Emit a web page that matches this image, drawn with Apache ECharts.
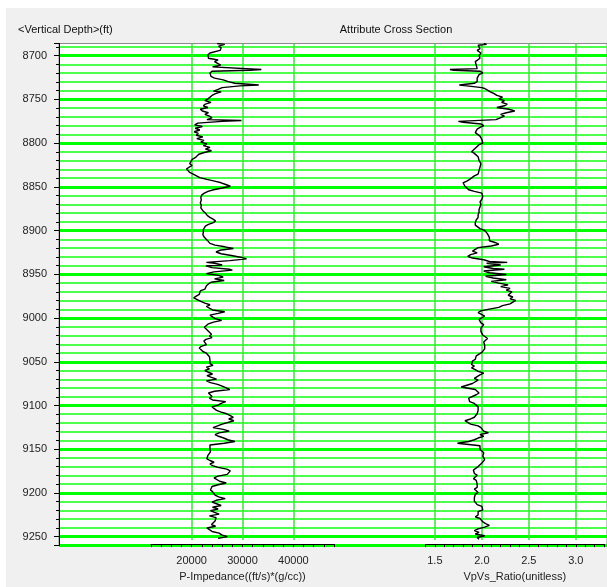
<!DOCTYPE html>
<html>
<head>
<meta charset="utf-8">
<title>Attribute Cross Section</title>
<script src="https://cdn.jsdelivr.net/npm/echarts@6/dist/echarts.min.js"></script>
<style>
  html, body { margin: 0; padding: 0; background: #fff; }
  #chart { width: 607px; height: 587px; }
</style>
</head>
<body>
<div id="chart"></div>
<script>
// Depth range of the section (ft)
const depthMin = 8686;
const depthMax = 9260;

// P-Impedance track
const impDepth = [
  8686, 8687, 8689, 8691, 8694, 8697, 8699, 8701, 8703, 8705, 8707, 8709, 8711, 8713, 8715, 8716, 8717, 8718,
  8720, 8722, 8724, 8726, 8728, 8730, 8732, 8734, 8735, 8737, 8739, 8741, 8742, 8744, 8746, 8748, 8750, 8752,
  8754, 8756, 8758, 8760, 8762, 8764, 8766, 8768, 8770, 8772, 8774, 8775, 8776, 8778, 8780, 8782, 8784, 8786,
  8788, 8790, 8792, 8794, 8796, 8798, 8800, 8802, 8804, 8806, 8808, 8810, 8812, 8814, 8816, 8818, 8820, 8822,
  8825, 8827, 8829, 8831, 8833, 8835, 8837, 8839, 8841, 8843, 8845, 8847, 8849, 8851, 8853, 8855, 8857, 8859,
  8861, 8864, 8867, 8870, 8873, 8876, 8878, 8880, 8882, 8885, 8887, 8889, 8891, 8893, 8895, 8897, 8899, 8901,
  8904, 8907, 8910, 8913, 8915, 8917, 8919, 8921, 8923, 8925, 8927, 8929, 8931, 8933, 8935, 8937, 8939, 8940,
  8942, 8943, 8945, 8947, 8948, 8950, 8952, 8954, 8956, 8958, 8960, 8962, 8964, 8966, 8968, 8970, 8972, 8974,
  8976, 8978, 8980, 8982, 8984, 8986, 8988, 8990, 8992, 8994, 8996, 8998, 9000, 9002, 9004, 9006, 9008, 9010,
  9012, 9014, 9016, 9018, 9020, 9022, 9024, 9026, 9028, 9030, 9032, 9034, 9036, 9038, 9040, 9042, 9044, 9046,
  9048, 9050, 9052, 9054, 9056, 9058, 9060, 9062, 9064, 9066, 9068, 9070, 9072, 9074, 9076, 9078, 9080, 9082,
  9084, 9086, 9088, 9090, 9092, 9094, 9096, 9098, 9100, 9102, 9104, 9106, 9108, 9110, 9112, 9114, 9116, 9118,
  9120, 9122, 9124, 9126, 9128, 9130, 9132, 9134, 9136, 9138, 9140, 9142, 9144, 9146, 9148, 9150, 9152, 9155,
  9158, 9160, 9162, 9164, 9166, 9168, 9170, 9172, 9174, 9176, 9178, 9180, 9182, 9184, 9186, 9188, 9190, 9192,
  9194, 9196, 9198, 9200, 9202, 9204, 9206, 9208, 9210, 9212, 9214, 9216, 9218, 9220, 9222, 9224, 9226, 9228,
  9230, 9232, 9234, 9236, 9238, 9240, 9242, 9244, 9246, 9248, 9250, 9252, 9254, 9256, 9258
];
const impValue = [
  25000, 26500, 25300, 25800, 25600, 23600, 23200, 22900, 23300, 25200, 24500, 24200, 25700, 24100, 24400, 33700, 31500, 24000,
  23600, 23400, 23800, 24500, 26200, 27200, 28500, 33200, 29500, 26000, 25200, 24300, 25800, 24700, 24000, 23800, 23200, 22600,
  23800, 22700, 22300, 23200, 21700, 22100, 23300, 22600, 23500, 24000, 23000, 29800, 26000, 21200, 20600, 22100, 20700, 21600,
  20500, 21300, 20900, 22200, 21000, 22400, 21800, 23000, 22300, 23600, 22700, 23900, 22500, 21400, 21200, 20700, 20100, 19800,
  19600, 20100, 19500, 19000, 18900, 19600, 20300, 20500, 21600, 23000, 24500, 25800, 26700, 27600, 26000, 24300, 23200, 22500,
  22000, 21800, 21900, 21700, 21900, 21800, 22100, 22300, 22700, 23100, 23600, 24200, 24700, 24300, 23300, 22700, 22400, 22300,
  22300, 22200, 22500, 23000, 23300, 23600, 24600, 26500, 28200, 25500, 24800, 25800, 27800, 29600, 30800, 27500, 22900, 24500,
  26000, 22800, 24000, 27500, 28000, 24400, 22900, 25300, 26200, 24500, 26400, 23800, 23300, 22900, 23000, 22600, 21700, 22000,
  21500, 20900, 20400, 20300, 21800, 22600, 23600, 22900, 23100, 24100, 26500, 25200, 23600, 23500, 24600, 25900, 24300, 23300,
  23000, 22500, 22300, 23200, 23400, 23900, 23500, 24000, 22800, 22400, 22200, 22900, 21900, 21500, 21700, 22200, 22900, 23200,
  23500, 23300, 23600, 23800, 23600, 24200, 22900, 23500, 22600, 23300, 24100, 23000, 23900, 24900, 22900, 23700, 25100, 26000,
  26800, 27500, 24500, 23300, 23600, 24000, 23500, 24100, 26700, 25800, 25200, 24000, 24300, 24900, 25800, 26900, 27600, 28200,
  27300, 28300, 28500, 26000, 25100, 24200, 26200, 27400, 25400, 24600, 25300, 26300, 27100, 28500, 26400, 23600, 23500, 23600,
  23700, 23800, 23200, 22900, 23000, 23600, 24400, 23600, 24100, 25200, 26900, 27600, 27400, 27000, 25200, 24400, 24600, 25500,
  26800, 25200, 24000, 24300, 23700, 24100, 23800, 24600, 25300, 26600, 24800, 24000, 24900, 25800, 24100, 25200, 23700, 24500,
  25400, 23500, 24800, 25100, 24600, 24300, 23900, 24700, 23000, 22700, 24000, 25400, 25900, 27000, 25200
];

// VpVs ratio track
const vpvsDepth = [
  8686, 8687, 8688, 8690, 8692, 8694, 8697, 8700, 8703, 8705, 8707, 8709, 8711, 8713, 8715, 8716, 8717, 8718,
  8720, 8722, 8724, 8726, 8728, 8730, 8732, 8734, 8735, 8737, 8738, 8740, 8742, 8744, 8746, 8748, 8750, 8752,
  8754, 8756, 8758, 8760, 8762, 8764, 8766, 8768, 8770, 8772, 8774, 8776, 8777, 8779, 8781, 8783, 8785, 8787,
  8789, 8791, 8793, 8795, 8797, 8799, 8801, 8803, 8805, 8807, 8809, 8811, 8813, 8815, 8817, 8819, 8821, 8823,
  8825, 8827, 8829, 8831, 8833, 8835, 8837, 8839, 8841, 8843, 8845, 8847, 8849, 8851, 8853, 8855, 8857, 8859,
  8861, 8863, 8866, 8869, 8872, 8875, 8878, 8881, 8884, 8887, 8890, 8893, 8896, 8898, 8900, 8902, 8904, 8906,
  8908, 8910, 8912, 8914, 8916, 8918, 8920, 8922, 8924, 8926, 8928, 8930, 8932, 8934, 8936, 8938, 8939, 8940,
  8942, 8944, 8946, 8947, 8949, 8951, 8953, 8955, 8957, 8959, 8961, 8963, 8965, 8967, 8969, 8971, 8973, 8975,
  8977, 8979, 8981, 8983, 8985, 8987, 8989, 8991, 8993, 8995, 8997, 8999, 9001, 9003, 9005, 9007, 9009, 9011,
  9013, 9015, 9017, 9019, 9021, 9023, 9025, 9027, 9029, 9031, 9033, 9035, 9037, 9039, 9041, 9043, 9045, 9047,
  9049, 9051, 9053, 9055, 9057, 9059, 9061, 9063, 9065, 9067, 9069, 9071, 9073, 9075, 9077, 9079, 9081, 9083,
  9085, 9086, 9088, 9090, 9092, 9094, 9096, 9098, 9100, 9102, 9104, 9106, 9108, 9110, 9112, 9114, 9116, 9118,
  9120, 9122, 9124, 9126, 9128, 9130, 9132, 9134, 9136, 9138, 9140, 9142, 9144, 9146, 9148, 9149, 9151, 9153,
  9155, 9157, 9159, 9161, 9163, 9165, 9167, 9169, 9171, 9173, 9175, 9177, 9179, 9181, 9183, 9185, 9187, 9189,
  9191, 9193, 9195, 9197, 9199, 9201, 9203, 9205, 9207, 9209, 9211, 9213, 9215, 9217, 9219, 9221, 9223, 9225,
  9227, 9229, 9231, 9233, 9235, 9237, 9239, 9241, 9243, 9245, 9247, 9249, 9251, 9253, 9255, 9257, 9259
];
const vpvsValue = [
  2.02, 2.05, 1.96, 1.94, 1.98, 1.95, 1.99, 1.97, 1.98, 1.96, 1.93, 1.95, 1.94, 1.93, 1.95, 1.66, 1.70, 1.98,
  2.01, 1.97, 1.98, 1.95, 1.97, 1.95, 1.92, 1.76, 1.84, 2.00, 2.03, 2.06, 2.09, 2.13, 2.16, 2.22, 2.18, 2.24,
  2.21, 2.27, 2.24, 2.16, 2.29, 2.35, 2.26, 2.20, 2.24, 2.22, 2.15, 1.75, 1.80, 1.99, 2.02, 1.98, 1.95, 1.96,
  1.93, 1.95, 1.98, 1.96, 2.00, 1.98, 2.01, 1.97, 1.96, 1.93, 1.95, 1.89, 1.92, 1.94, 1.96, 1.95, 1.97, 1.96,
  1.99, 1.97, 1.98, 2.00, 1.97, 1.99, 1.96, 1.92, 1.90, 1.87, 1.84, 1.80, 1.78, 1.82, 1.84, 1.86, 1.92, 2.00,
  2.02, 2.01, 2.00, 1.98, 1.99, 1.98, 1.97, 1.97, 1.96, 1.96, 1.94, 1.93, 1.93, 1.95, 1.98, 2.03, 2.05, 2.06,
  2.07, 2.08, 2.10, 2.08, 2.14, 2.18, 2.10, 1.96, 1.93, 1.90, 1.95, 1.88, 1.85, 1.90, 2.02, 2.08, 2.27, 2.05,
  2.20, 2.02, 2.12, 2.24, 2.02, 2.08, 2.26, 2.04, 2.12, 2.26, 2.10, 2.18, 2.28, 2.20, 2.30, 2.26, 2.32, 2.34,
  2.28, 2.33, 2.30, 2.36, 2.38, 2.30, 2.22, 2.18, 2.08, 1.99, 1.96, 1.98, 2.03, 2.00, 1.97, 1.95, 1.99, 2.02,
  2.03, 1.99, 1.98, 1.99, 2.00, 2.01, 2.03, 2.06, 2.08, 2.02, 2.00, 2.03, 2.01, 2.03, 2.04, 2.00, 1.97, 1.94,
  1.92, 1.93, 1.90, 1.91, 1.89, 1.92, 1.89, 1.93, 1.96, 2.02, 1.98, 1.95, 1.92, 1.96, 1.93, 1.90, 1.92, 1.78,
  1.78, 1.93, 1.95, 1.97, 1.94, 1.92, 1.86, 1.84, 1.87, 1.92, 1.94, 1.96, 1.97, 1.96, 1.97, 1.95, 1.94, 1.92,
  1.88, 1.82, 1.81, 1.88, 1.96, 1.99, 1.97, 2.02, 2.07, 1.98, 2.02, 1.96, 1.92, 1.86, 1.74, 1.76, 1.98, 2.00,
  1.98, 2.00, 2.02, 2.00, 2.01, 2.02, 2.03, 2.01, 2.00, 1.98, 1.96, 1.94, 1.91, 1.90, 1.92, 1.95, 1.93, 1.91,
  1.94, 1.92, 1.95, 1.96, 1.95, 1.92, 1.94, 1.96, 1.93, 1.91, 1.92, 1.94, 1.92, 1.91, 1.95, 2.00, 1.98, 2.01,
  1.96, 1.94, 1.96, 1.93, 1.98, 1.96, 2.01, 2.04, 2.08, 2.03, 1.96, 1.92, 1.97, 1.93, 2.03, 1.95, 1.97
];

// Track scales and labelled ticks
const impAxis = { min: 12000, max: 48000, step: 2000 };
const impTickLabels = [20000, 30000, 40000];
const vpvsAxis = { min: 1.4, max: 3.3, step: 0.1 };
const vpvsTickLabels = [1.5, 2.0, 2.5, 3.0];

const FONT = 'Liberation Sans, Arial, sans-serif';
const GRID_TOP = 43.5;
const GRID_BOTTOM = 41.6;
const VLINE = '#3fe03f';

function isLabelled(v, list) {
  return list.some(t => Math.abs(t - v) < 1e-6);
}
// Colour list for split lines: only the labelled ticks get a vertical line
function splitColors(ax, list) {
  const out = [];
  const n = Math.round((ax.max - ax.min) / ax.step);
  for (let i = 0; i <= n; i++) {
    const v = ax.min + i * ax.step;
    out.push(isLabelled(v, list) ? VLINE : 'rgba(0,0,0,0)');
  }
  return out;
}

function trackXAxis(gridIndex, ax, labels, name, fmt) {
  return {
    gridIndex: gridIndex, type: 'value', position: 'bottom',
    min: ax.min, max: ax.max, interval: ax.step,
    offset: 4,
    axisLine: { show: true, onZero: false, lineStyle: { color: '#000', width: 1 } },
    axisTick: { show: true, length: 3, lineStyle: { color: '#000' } },
    axisLabel: {
      show: true, margin: 11, fontSize: 11, color: '#222', fontFamily: FONT,
      formatter: v => isLabelled(v, labels) ? fmt(v) : ''
    },
    splitLine: { show: true, lineStyle: { color: splitColors(ax, labels), width: 1.5 } },
    name: name, nameLocation: 'middle', nameGap: 24,
    nameTextStyle: { fontSize: 11, color: '#222', fontFamily: FONT }
  };
}

function depthAxis(gridIndex, visible) {
  const base = {
    gridIndex: gridIndex, type: 'value', inverse: true,
    min: depthMin, max: depthMax, splitNumber: 11, minInterval: 50, maxInterval: 50
  };
  if (!visible) {
    return Object.assign(base, { show: false, splitLine: { show: false } });
  }
  return Object.assign(base, {
    axisLine: { show: true, onZero: false, lineStyle: { color: '#000', width: 1 } },
    axisTick: { show: true, length: 5, lineStyle: { color: '#000' } },
    minorTick: { show: true, splitNumber: 5, length: 3, lineStyle: { color: '#000' } },
    axisLabel: {
      show: true, margin: 12, fontSize: 11, color: '#222', fontFamily: FONT,
      showMinLabel: false, showMaxLabel: false,
      formatter: v => String(v)
    },
    splitLine: { show: true, showMinLine: false, lineStyle: { color: '#00ff00', width: 3 } },
    minorSplitLine: { show: true, lineStyle: { color: '#4cff4c', width: 2 } }
  });
}

const impData = impDepth.map((d, i) => [impValue[i], d]);
const vpvsData = vpvsDepth.map((d, i) => [vpvsValue[i], d]);

const chart = echarts.init(document.getElementById('chart'), null, { renderer: 'canvas' });
chart.setOption({
  animation: false,
  backgroundColor: '#ffffff',
  graphic: [
    { type: 'rect', z: -1, shape: { x: 6, y: 8, width: 601, height: 579 }, style: { fill: '#f0f0f0' } },
    { type: 'text', x: 18, y: 29.5, style: { text: '<Vertical Depth>(ft)', font: '11px ' + FONT, fill: '#111', textVerticalAlign: 'middle' } },
    { type: 'text', x: 396, y: 29.5, style: { text: 'Attribute Cross Section', font: '11px ' + FONT, fill: '#111', textAlign: 'center', textVerticalAlign: 'middle' } }
  ],
  grid: [
    { left: 59, right: -1, top: GRID_TOP, bottom: GRID_BOTTOM, show: true, backgroundColor: '#ffffff', borderColor: '#8a8a8a', borderWidth: 1 },
    { left: 151, width: 183, top: GRID_TOP, bottom: GRID_BOTTOM },
    { left: 425.5, width: 179.5, top: GRID_TOP, bottom: GRID_BOTTOM }
  ],
  xAxis: [
    { gridIndex: 0, type: 'value', min: 0, max: 1, show: false },
    trackXAxis(1, impAxis, impTickLabels, 'P-Impedance((ft/s)*(g/cc))', v => String(v)),
    trackXAxis(2, vpvsAxis, vpvsTickLabels, 'VpVs_Ratio(unitless)', v => v.toFixed(1))
  ],
  yAxis: [
    depthAxis(0, true),
    depthAxis(1, false),
    depthAxis(2, false)
  ],
  series: [
    {
      name: 'P-Impedance', type: 'line', xAxisIndex: 1, yAxisIndex: 1, data: impData,
      symbol: 'none', z: 5, lineStyle: { color: '#000', width: 1.4 }
    },
    {
      name: 'VpVs_Ratio', type: 'line', xAxisIndex: 2, yAxisIndex: 2, data: vpvsData,
      symbol: 'none', z: 5, lineStyle: { color: '#000', width: 1.4 }
    }
  ]
});
</script>
</body>
</html>
